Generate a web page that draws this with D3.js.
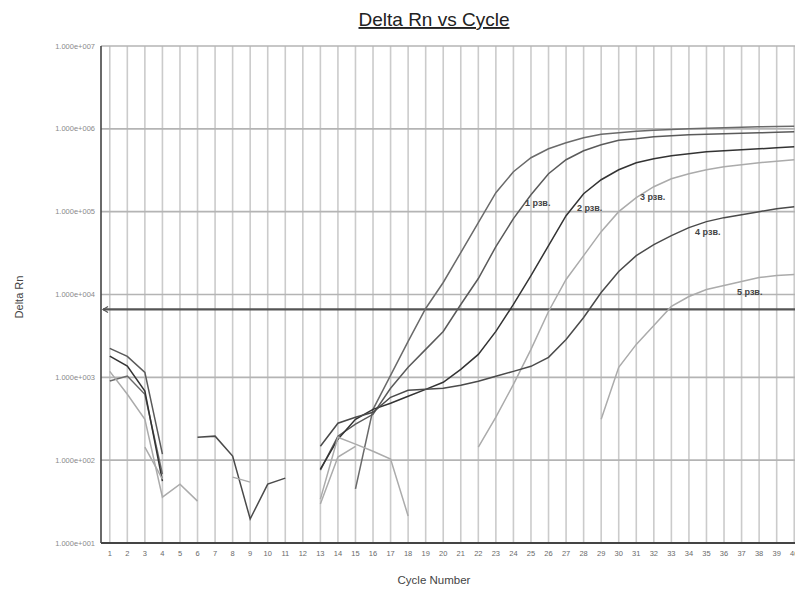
<!DOCTYPE html>
<html>
<head>
<meta charset="utf-8">
<script src="https://cdn.jsdelivr.net/npm/d3@7"></script>
<style>
  body { margin: 0; background: #fff; }
  text { font-family: "Liberation Sans", Arial, sans-serif; }
</style>
</head>
<body>
<svg id="chart" width="795" height="592"></svg>
<script>
const cycles = d3.range(1, 41);
const yTicks = [1e1, 1e2, 1e3, 1e4, 1e5, 1e6, 1e7];
const threshold = 6600;

// null = no value (negative delta Rn, not drawn on log axis)
const _ = null;
const runA = [902, 1037, 624, 68, _, _, _, _, _, _, _, _, _, _, 45, 411, 1058, 2716, 6780, 13960,
  32060, 73650, 169400, 303300, 447600, 574000, 678000, 779700, 858600, 895000,
  933000, 960000, 979000, 1.0e6, 1.014e6, 1.028e6, 1.042e6, 1.057e6, 1.065e6, 1.072e6];
const runB = [2235, 1790, 1148, 118, _, _, _, _, _, _, _, _, 76, 195, 272, 358, 737, 1320, 2175, 3583,
  7580, 15600, 37850, 82400, 160300, 287000, 423500, 543000, 641500, 726700,
  758000, 801000, 824000, 847000, 858600, 871000, 883000, 895000, 907000, 920000];
const runC = [1806, 1368, 684, 56, _, _, _, _, _, _, _, _, 78, 179, 312, 411, 486, 590, 716, 871,
  1248, 1892, 3583, 7580, 16940, 38900, 89500, 164700, 243000, 320600,
  389400, 435000, 473000, 500000, 528000, 543000, 558000, 574000, 590000, 607000];
const runD = [1181, 624, 312, 35.8, 51.4, 32, _, _, _, _, _, _, 29.5, 109, 147, _, _, _, _, _,
  _, 143.5, 330, 824, 2175, 6240, 15170, 29500, 57400, 100000,
  147500, 200000, 250000, 287000, 320600, 348600, 368000, 389400, 405700, 423500];
const runE = [_, _, _, _, _, 189, 195, 112, 19.5, 51.4, 60.7, _, 147, 279, 330, 379, 574, 697, 716, 737,
  801, 895, 1028, 1181, 1358, 1742, 2870, 5285, 10570, 18930,
  29500, 40000, 51400, 64200, 75800, 84700, 92000, 100000, 108700, 114800];
const runF = [_, _, 143.5, 59, _, _, _, 62.4, 54.3, _, _, _, 33.9, 189, 156, 128, 103, 21.2, _, _,
  _, _, _, _, _, _, _, _, 312, 1320,
  2500, 4235, 7170, 9460, 11490, 12830, 14350, 16030, 16940, 17400];

const runs = [runA, runB, runC, runD, runE, runF];
const runColors = ['#6a6a6a', '#5a5a5a', '#333', '#ababab', '#4a4a4a', '#ababab'];

const labels = [
  {text: '1 рзв.', cycle: 24.66, value: 118000},
  {text: '2 рзв.', cycle: 27.62, value: 103000},
  {text: '3 рзв.', cycle: 31.21, value: 139500},
  {text: '4 рзв.', cycle: 34.35, value: 52800},
  {text: '5 рзв.', cycle: 36.74, value: 10000}
];

const svg = d3.select('#chart');
const x = d3.scaleLinear().domain([0.5, 40.5]).range([101, 803]);
const y = d3.scaleLog().domain([10, 1e7]).range([543, 46]);

// grid
svg.append('g').selectAll('line').data(cycles).enter().append('line')
  .attr('x1', d => x(d)).attr('x2', d => x(d))
  .attr('y1', y(1e7)).attr('y2', y(10))
  .attr('stroke', '#cbcbcb').attr('stroke-width', 1.6);
svg.append('g').selectAll('line').data(yTicks).enter().append('line')
  .attr('x1', x(0.5)).attr('x2', 795)
  .attr('y1', d => y(d)).attr('y2', d => y(d))
  .attr('stroke', '#b4b4b4').attr('stroke-width', 1.6);

// axes lines
svg.append('line').attr('x1', x(0.5)).attr('x2', x(0.5)).attr('y1', y(1e7)).attr('y2', y(10))
  .attr('stroke', '#444').attr('stroke-width', 1.6);
svg.append('line').attr('x1', x(0.5)).attr('x2', 795).attr('y1', y(10)).attr('y2', y(10))
  .attr('stroke', '#444').attr('stroke-width', 1.8);

// tick labels
svg.append('g').selectAll('text').data(yTicks).enter().append('text')
  .attr('x', 95).attr('y', d => y(d) + 2.5)
  .attr('text-anchor', 'end').attr('font-size', 7.5).attr('fill', '#8a8a8a')
  .text(d => '1.000e+' + String(Math.round(Math.log10(d))).padStart(3, '0'));
svg.append('g').selectAll('text').data(cycles).enter().append('text')
  .attr('x', d => x(d)).attr('y', 556)
  .attr('text-anchor', 'middle').attr('font-size', 7.5).attr('fill', '#6a6a6a')
  .text(d => d);

// threshold
svg.append('line').attr('x1', x(0.5) + 2).attr('x2', 795)
  .attr('y1', y(threshold)).attr('y2', y(threshold))
  .attr('stroke', '#555').attr('stroke-width', 2.2);
svg.append('path')
  .attr('d', 'M' + (x(0.5) + 7) + ',' + (y(threshold) - 3) + 'L' + (x(0.5) + 2) + ',' + y(threshold) + 'L' + (x(0.5) + 7) + ',' + (y(threshold) + 3))
  .attr('fill', 'none').attr('stroke', '#555').attr('stroke-width', 1.2);

// curves
const line = d3.line()
  .defined(d => d != null)
  .x((d, i) => x(cycles[i]))
  .y(d => y(d));

svg.append('g').selectAll('path').data(runs).enter().append('path')
  .attr('d', d => line(d))
  .attr('fill', 'none')
  .attr('stroke', (d, i) => runColors[i])
  .attr('stroke-width', 1.5);

svg.append('g').selectAll('text').data(labels).enter().append('text')
  .attr('x', d => x(d.cycle)).attr('y', d => y(d.value))
  .attr('font-size', 9).attr('font-weight', 'bold').attr('fill', '#444')
  .text(d => d.text);

// titles
svg.append('text').attr('x', 434).attr('y', 26)
  .attr('text-anchor', 'middle').attr('font-size', 19).attr('fill', '#222')
  .attr('text-decoration', 'underline')
  .text('Delta Rn vs Cycle');
svg.append('text').attr('transform', 'translate(23,297) rotate(-90)')
  .attr('text-anchor', 'middle').attr('font-size', 11).attr('fill', '#444')
  .text('Delta Rn');
svg.append('text').attr('x', 434).attr('y', 584)
  .attr('text-anchor', 'middle').attr('font-size', 11.5).attr('fill', '#444')
  .text('Cycle Number');
</script>
</body>
</html>
